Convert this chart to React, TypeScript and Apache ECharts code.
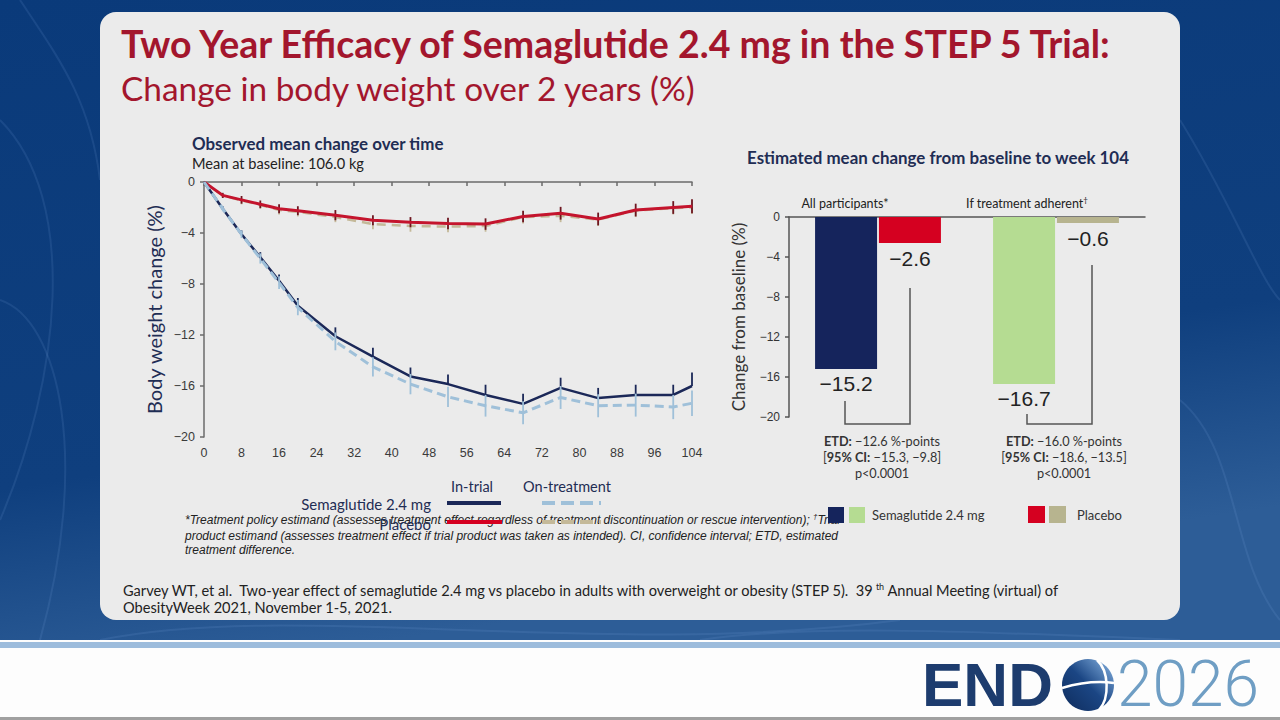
import React, { useEffect, useRef } from "react";
import * as echarts from "echarts";

// ---------------- data ----------------
const weeks = [0, 4, 8, 12, 16, 20, 28, 36, 44, 52, 60, 68, 76, 84, 92, 100, 104];
const semaInTrial = [0, -2.1, -4.1, -5.9, -7.75, -9.7, -12.1, -13.7, -15.25, -15.85, -16.7, -17.4, -16.15, -16.95, -16.7, -16.7, -16.0];
const semaOnTreatment = [0, -2.1, -4.1, -6.0, -7.9, -9.85, -12.5, -14.5, -15.85, -16.85, -17.55, -18.1, -16.9, -17.55, -17.5, -17.65, -17.35];
const placeboInTrial = [0, -1.05, -1.4, -1.75, -2.1, -2.25, -2.6, -3.0, -3.15, -3.25, -3.3, -2.7, -2.45, -2.9, -2.2, -2.0, -1.9];
const placeboOnTreatment = [0, -1.05, -1.45, -1.8, -2.2, -2.35, -2.75, -3.3, -3.45, -3.5, -3.45, -2.75, -2.65, -2.95, -2.25, -2.05, -2.0];
const semaInTrialErr = [0, 0.2, 0.3, 0.4, 0.5, 0.6, 0.7, 0.7, 0.7, 0.75, 0.8, 0.8, 0.8, 0.8, 0.8, 0.8, 1.05];
const semaOnTreatmentErr = [0, 0.2, 0.3, 0.4, 0.5, 0.6, 0.7, 0.75, 0.8, 0.8, 0.85, 0.9, 0.9, 0.9, 0.9, 0.95, 1.0];
const placeboInTrialErr = [0, 0.2, 0.3, 0.3, 0.35, 0.35, 0.4, 0.4, 0.4, 0.45, 0.45, 0.45, 0.5, 0.5, 0.5, 0.5, 0.55];
const placeboOnTreatmentErr = [0, 0.2, 0.3, 0.3, 0.35, 0.35, 0.4, 0.4, 0.45, 0.45, 0.45, 0.5, 0.5, 0.5, 0.5, 0.5, 0.5];

const barGroups = ["All participants*", "If treatment adherent†"];
const semaBar = [-15.2, -16.7];
const placeboBar = [-2.6, -0.6];
const etdLines = [
  ["{b|ETD:} −12.6 %-points", "[{b|95% CI:} −15.3, −9.8]", "p<0.0001"],
  ["{b|ETD:} −16.0 %-points", "[{b|95% CI:} −18.6, −13.5]", "p<0.0001"],
];

// ---------------- styles ----------------
const NAVY = "#1b2858";
const LIGHTBLUE = "#9fc0d9";
const RED = "#c4142d";
const TAN = "#c4b999";
const BAR_NAVY = "#15245c";
const BAR_GREEN = "#b5dc92";
const BAR_RED = "#d50020";
const BAR_TAN = "#b7b48f";
const TITLE_RED = "#a3162d";
const HEAD_NAVY = "#1f2d54";

const minus = (v: number) => (v === 0 ? "0" : (v < 0 ? "−" : "") + Math.abs(v));

const txt = (text: string, x: number, y: number, o: any = {}) => ({
  type: "text",
  x,
  y,
  z: o.z ?? 20,
  silent: true,
  style: {
    text,
    fill: o.fill ?? "#222",
    fontSize: o.size ?? 12,
    fontFamily: o.family ?? "Lato",
    fontWeight: o.weight ?? "normal",
    fontStyle: o.fstyle ?? "normal",
    align: o.align ?? "left",
    verticalAlign: o.va ?? "middle",
    rich: o.rich,
    lineHeight: o.lh,
  },
});

function errSeries(vals: number[], errs: number[], color: string, dir: string, z: number) {
  return {
    type: "custom",
    xAxisIndex: 0,
    yAxisIndex: 0,
    z,
    silent: true,
    data: weeks.map((w, i) => [w, vals[i], errs[i]]),
    renderItem: (_p: any, api: any) => {
      const x = api.value(0);
      const y = api.value(1);
      const e = api.value(2);
      const a = api.coord([x, dir === "down" ? y : y + e]);
      const b = api.coord([x, dir === "up" ? y : y - e]);
      return {
        type: "line",
        shape: { x1: a[0], y1: a[1], x2: b[0], y2: b[1] },
        style: { stroke: color, lineWidth: 1.8 },
      };
    },
  };
}

function lineSeries(vals: number[], color: string, width: number, dash: any, z: number) {
  return {
    type: "line",
    xAxisIndex: 0,
    yAxisIndex: 0,
    z,
    silent: true,
    showSymbol: false,
    symbol: "none",
    data: weeks.map((w, i) => [w, vals[i]]),
    lineStyle: { color, width, type: dash },
  };
}

const swirl = (x1: number, y1: number, c1x: number, c1y: number, c2x: number, c2y: number, x2: number, y2: number) => ({
  type: "bezierCurve",
  z: 1,
  silent: true,
  shape: { x1, y1, cpx1: c1x, cpy1: c1y, cpx2: c2x, cpy2: c2y, x2, y2 },
  style: { stroke: "rgba(140,180,235,0.12)", lineWidth: 2, fill: null },
});

export default function App() {
  const ref = useRef<HTMLDivElement>(null);
  useEffect(() => {
    if (!ref.current) return;
    const chart = echarts.init(ref.current, undefined, { renderer: "svg" });

    const graphics: any[] = [
      // background
      {
        type: "rect", z: 0, silent: true,
        shape: { x: 0, y: 0, width: 1280, height: 641 },
        style: {
          fill: { type: "linear", x: 0, y: 0, x2: 0.3, y2: 1, colorStops: [
            { offset: 0, color: "#0a3a7a" }, { offset: 0.7, color: "#0f3f7e" }, { offset: 1, color: "#2d5d97" } ] },
        },
      },
      swirl(0, 120, 80, 200, 60, 380, 0, 520),
      swirl(0, 300, 60, 320, 90, 460, 40, 640),
      swirl(20, 0, 60, 60, 90, 100, 100, 180),
      swirl(1180, 120, 1230, 200, 1260, 280, 1280, 300),
      swirl(1180, 400, 1240, 450, 1230, 560, 1280, 620),
      swirl(100, 640, 300, 600, 600, 660, 900, 620),
      swirl(700, 640, 800, 625, 950, 630, 1180, 640),
      // bottom white strip
      { type: "rect", z: 1, silent: true, shape: { x: 0, y: 640, width: 1280, height: 80 }, style: { fill: "#fdfdfd" } },
      { type: "rect", z: 1, silent: true, shape: { x: 0, y: 642, width: 1280, height: 6 }, style: { fill: "#9dbcdc" } },
      { type: "rect", z: 1, silent: true, shape: { x: 0, y: 717, width: 1280, height: 3 }, style: { fill: "#a0a0a0" } },
      // panel
      { type: "rect", z: 1, silent: true, shape: { x: 100, y: 12, width: 1080, height: 608, r: 16 }, style: { fill: "#ebebeb" } },

      // titles
      txt("Two Year Efficacy of Semaglutide 2.4 mg in the STEP 5 Trial:", 121, 43, { size: 37.5, weight: "bold", fill: TITLE_RED }),
      txt("Change in body weight over 2 years (%)", 121, 88, { size: 33.4, fill: TITLE_RED }),

      // left chart headings
      txt("Observed mean change over time", 192, 143, { size: 16.9, weight: "bold", fill: HEAD_NAVY }),
      txt("Mean at baseline: 106.0 kg", 192, 163, { size: 14.6, fill: "#222" }),

      // right chart heading
      txt("Estimated mean change from baseline to week 104", 938, 157, { size: 16.9, weight: "bold", fill: HEAD_NAVY, align: "center" }),
      txt(barGroups[0], 845, 203, { size: 12.5, fill: "#222", align: "center" }),
      txt("If treatment adherent{s|†}", 1027, 203, {
        size: 12.5, fill: "#222", align: "center", lh: 15,
        rich: { s: { fontSize: 8, fontFamily: "Lato", fill: "#222", verticalAlign: "top", lineHeight: 15 } },
      }),

      // brackets
      { type: "polyline", z: 20, silent: true, shape: { points: [[845, 401], [845, 424], [910, 424], [910, 288]] }, style: { stroke: "#555", lineWidth: 1.5, fill: null } },
      { type: "polyline", z: 20, silent: true, shape: { points: [[1027, 414], [1027, 424], [1092, 424], [1092, 265]] }, style: { stroke: "#555", lineWidth: 1.5, fill: null } },

      // left legend
      txt("In-trial", 472, 486, { size: 14.5, fill: HEAD_NAVY, align: "center" }),
      txt("On-treatment", 567, 486, { size: 14.5, fill: HEAD_NAVY, align: "center" }),
      txt("Semaglutide 2.4 mg", 431, 504, { size: 15, fill: HEAD_NAVY, align: "right" }),
      txt("Placebo", 431, 524, { size: 15, fill: HEAD_NAVY, align: "right" }),
      { type: "line", z: 21, silent: true, shape: { x1: 447, y1: 503, x2: 501, y2: 503 }, style: { stroke: NAVY, lineWidth: 4 } },
      { type: "line", z: 21, silent: true, shape: { x1: 542, y1: 503, x2: 601, y2: 503 }, style: { stroke: LIGHTBLUE, lineWidth: 4, lineDash: [13, 6] } },
      { type: "line", z: 21, silent: true, shape: { x1: 447, y1: 522, x2: 502, y2: 522 }, style: { stroke: BAR_RED, lineWidth: 4 } },
      { type: "line", z: 21, silent: true, shape: { x1: 542, y1: 522, x2: 601, y2: 522 }, style: { stroke: TAN, lineWidth: 4, lineDash: [13, 6] } },

      // footnote
      txt("*Treatment policy estimand (assesses treatment effect regardless of treatment discontinuation or rescue intervention); {s|†}Trial", 185, 520, {
        size: 12, family: "Liberation Sans", fstyle: "italic", fill: "#222", lh: 15, z: 19,
        rich: { s: { fontSize: 8, fontFamily: "Liberation Sans", fontStyle: "italic", fill: "#222", verticalAlign: "top", lineHeight: 15 } },
      }),
      txt("product estimand (assesses treatment effect if trial product was taken as intended). CI, confidence interval; ETD, estimated", 185, 535.5, {
        size: 12, family: "Liberation Sans", fstyle: "italic", fill: "#222", z: 19,
      }),
      txt("treatment difference.", 185, 550, { size: 12, family: "Liberation Sans", fstyle: "italic", fill: "#222", z: 19 }),

      // right legend
      { type: "rect", z: 22, silent: true, shape: { x: 828, y: 507, width: 16, height: 16 }, style: { fill: BAR_NAVY } },
      { type: "rect", z: 22, silent: true, shape: { x: 849, y: 507, width: 16, height: 16 }, style: { fill: BAR_GREEN } },
      txt("Semaglutide 2.4 mg", 872, 515, { size: 13, fill: "#333" }),
      { type: "rect", z: 22, silent: true, shape: { x: 1028, y: 506, width: 17, height: 17 }, style: { fill: BAR_RED } },
      { type: "rect", z: 22, silent: true, shape: { x: 1049, y: 506, width: 17, height: 17 }, style: { fill: BAR_TAN } },
      txt("Placebo", 1077, 515, { size: 13, fill: "#333" }),

      // citation
      txt("Garvey WT, et al.  Two-year effect of semaglutide 2.4 mg vs placebo in adults with overweight or obesity (STEP 5).  39{s|th} Annual Meeting (virtual) of", 123, 590, {
        size: 14.6, fill: "#222", lh: 17,
        rich: { s: { fontSize: 9, fontFamily: "Lato", fill: "#222", verticalAlign: "top", lineHeight: 17 } },
      }),
      txt("ObesityWeek 2021, November 1-5, 2021.", 123, 607, { size: 14.6, fill: "#222" }),

      // ENDO 2026 logo
      txt("END", 922, 684, { size: 62, weight: "bold", family: "Liberation Sans", fill: "#1d3c6e", lh: 58 }),
      {
        type: "circle", z: 20, silent: true, shape: { cx: 1088, cy: 685, r: 26 },
        style: { fill: { type: "linear", x: 0, y: 1, x2: 1, y2: 0, colorStops: [
          { offset: 0, color: "#0e2b5c" }, { offset: 0.5, color: "#1b4684" }, { offset: 1, color: "#8bb8e6" } ] } },
      },
      { type: "bezierCurve", z: 21, silent: true, shape: { x1: 1062, y1: 688, cpx1: 1079, cpy1: 683, cpx2: 1099, cpy2: 681, x2: 1114, y2: 683 }, style: { stroke: "#fff", lineWidth: 2.5, fill: null } },
      { type: "bezierCurve", z: 21, silent: true, shape: { x1: 1097, y1: 660, cpx1: 1109, cpy1: 671, cpx2: 1110, cpy2: 698, x2: 1099, y2: 710 }, style: { stroke: "#fff", lineWidth: 2.5, fill: null } },
      txt("2026", 1117, 684, { size: 64, weight: 300, family: "Roboto", fill: "#6f9ec4", lh: 58 }),
    ];

    etdLines.forEach((lines, gi) => {
      const cx = gi === 0 ? 882 : 1064;
      lines.forEach((l, li) => {
        graphics.push(
          txt(l, cx, 441 + li * 16, {
            size: 12.7, fill: "#333", align: "center", lh: 15,
            rich: { b: { fontSize: 12.7, fontFamily: "Lato", fontWeight: "bold", fill: "#333", lineHeight: 15 } },
          })
        );
      });
    });

    const axisColor = "#6b6b6b";
    const tickFont = { color: "#3a3a3a", fontSize: 12.5, fontFamily: "Liberation Sans" };

    const option: any = {
      animation: false,
      graphic: { elements: graphics },
      grid: [
        { left: 204, top: 182, width: 488, height: 255 },
        { left: 789, top: 217, width: 356, height: 200 },
      ],
      xAxis: [
        {
          type: "value", gridIndex: 0, min: 0, max: 104, interval: 8, z: 5,
          axisLine: { lineStyle: { color: axisColor, width: 1.5 } },
          axisTick: { show: true, length: 4, lineStyle: { color: axisColor, width: 1.5 } },
          axisLabel: { ...tickFont, margin: 9 },
          splitLine: { show: false },
        },
        {
          type: "category", gridIndex: 1, data: barGroups, position: "top", z: 5,
          axisLine: { lineStyle: { color: "#555", width: 1.5 } },
          axisTick: { show: false },
          axisLabel: { show: false },
        },
      ],
      yAxis: [
        {
          type: "value", gridIndex: 0, min: -20, max: 0, interval: 4, z: 5,
          name: "Body weight change (%)", nameLocation: "middle", nameGap: 40,
          nameTextStyle: { color: HEAD_NAVY, fontSize: 20, fontFamily: "Lato" },
          axisLine: { show: true, lineStyle: { color: axisColor, width: 1.5 } },
          axisTick: { show: true, length: 4, lineStyle: { color: axisColor, width: 1.5 } },
          axisLabel: { ...tickFont, margin: 9, formatter: (v: number) => minus(v) },
          splitLine: { show: false },
        },
        {
          type: "value", gridIndex: 1, min: -20, max: 0, interval: 4, z: 5,
          name: "Change from baseline (%)", nameLocation: "middle", nameGap: 42,
          nameTextStyle: { color: "#333", fontSize: 17, fontFamily: "Lato" },
          axisLine: { show: true, lineStyle: { color: "#555", width: 1.5 } },
          axisTick: { show: true, length: 4, lineStyle: { color: "#555", width: 1.5 } },
          axisLabel: { color: "#333", fontSize: 12, fontFamily: "Liberation Sans", margin: 9, formatter: (v: number) => minus(v) },
          splitLine: { show: false },
        },
      ],
      series: [
        lineSeries(placeboOnTreatment, TAN, 2.5, [9, 6], 6),
        errSeries(placeboOnTreatment, placeboOnTreatmentErr, TAN, "down", 6),
        lineSeries(placeboInTrial, RED, 3, "solid", 7),
        errSeries(placeboInTrial, placeboInTrialErr, "#6e1620", "both", 7),
        lineSeries(semaInTrial, NAVY, 2.5, "solid", 8),
        errSeries(semaInTrial, semaInTrialErr, NAVY, "up", 8),
        lineSeries(semaOnTreatment, LIGHTBLUE, 3, [9, 5], 9),
        errSeries(semaOnTreatment, semaOnTreatmentErr, LIGHTBLUE, "both", 9),
        {
          type: "bar", xAxisIndex: 1, yAxisIndex: 1, z: 6, silent: true,
          barWidth: 62, barGap: "3%",
          data: semaBar.map((v, i) => ({ value: v, itemStyle: { color: i === 0 ? BAR_NAVY : BAR_GREEN } })),
          label: {
            show: true, position: "bottom", distance: 4, fontSize: 21, fontFamily: "Liberation Sans", color: "#222",
            formatter: (p: any) => "−" + Math.abs(p.value).toFixed(1),
          },
        },
        {
          type: "bar", xAxisIndex: 1, yAxisIndex: 1, z: 6, silent: true,
          barWidth: 62, barGap: "3%",
          data: placeboBar.map((v, i) => ({ value: v, itemStyle: { color: i === 0 ? BAR_RED : BAR_TAN } })),
          label: {
            show: true, position: "bottom", distance: 5, fontSize: 21, fontFamily: "Liberation Sans", color: "#222",
            formatter: (p: any) => "−" + Math.abs(p.value).toFixed(1),
          },
        },
      ],
    };
    chart.setOption(option);
    return () => chart.dispose();
  }, []);

  return <div ref={ref} style={{ position: "absolute", left: 0, top: 0, width: 1280, height: 720 }} />;
}
